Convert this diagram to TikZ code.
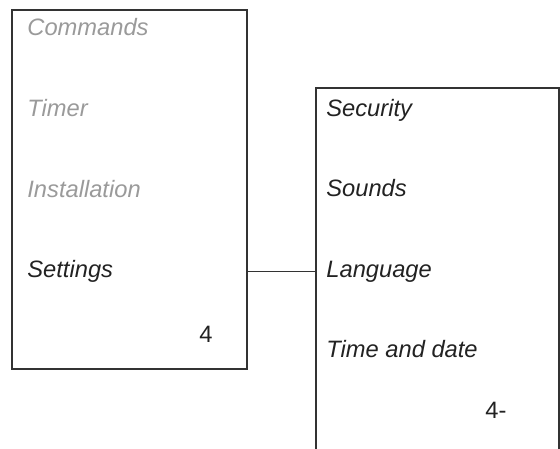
\documentclass[tikz,border=0pt]{standalone}
\usepackage{fontspec}
\setmainfont{Liberation Sans}
\usetikzlibrary{positioning}
\definecolor{menuframe}{HTML}{333333}
\definecolor{menugrey}{HTML}{9A9A9A}
\definecolor{menutext}{HTML}{222222}
\tikzset{
  menubox/.style  = {draw=menuframe, line width=0.6pt, inner sep=0pt},
  entry/.style    = {anchor=base west, inner sep=0pt, text=menutext,
                     font=\fontsize{11.85}{14}\selectfont\itshape},
  inactive/.style = {entry, text=menugrey},
  tag/.style      = {anchor=base west, inner sep=0pt, text=menutext,
                     font=\fontsize{11.85}{14}\selectfont},
  link/.style     = {draw=menuframe, line width=0.5pt},
}
\begin{document}
\begin{tikzpicture}[x=0.5pt, y=-0.5pt]
  \useasboundingbox (0,0) rectangle (560,448);
  % main menu and the settings submenu
  \node[menubox, minimum width=117.5pt, minimum height=179.5pt] (menu) at (129.5,189.5) {};
  \node[menubox, minimum width=121.5pt, minimum height=182pt] (submenu) at (437.5,270) {};
  \node[inactive] (commands) at (27,36) {Commands};
  \node[inactive] (timer) at (27,117) {Timer};
  \node[inactive] (install) at (27,198) {Installation};
  \node[entry] (settings) at (27,277) {Settings};
  \node[tag] (menunum) at (199,342) {4};
  \node[entry] (security) at (326,117) {Security};
  \node[entry] (sounds) at (326,197) {Sounds};
  \node[entry] (language) at (326,277) {Language};
  \node[entry] (timedate) at (326,357) {Time and date};
  \node[tag] (subnum) at (485,418) {4-};
  \draw[link] (menu.east |- settings.mid) -- (submenu.west |- settings.mid);
\end{tikzpicture}
\end{document}
